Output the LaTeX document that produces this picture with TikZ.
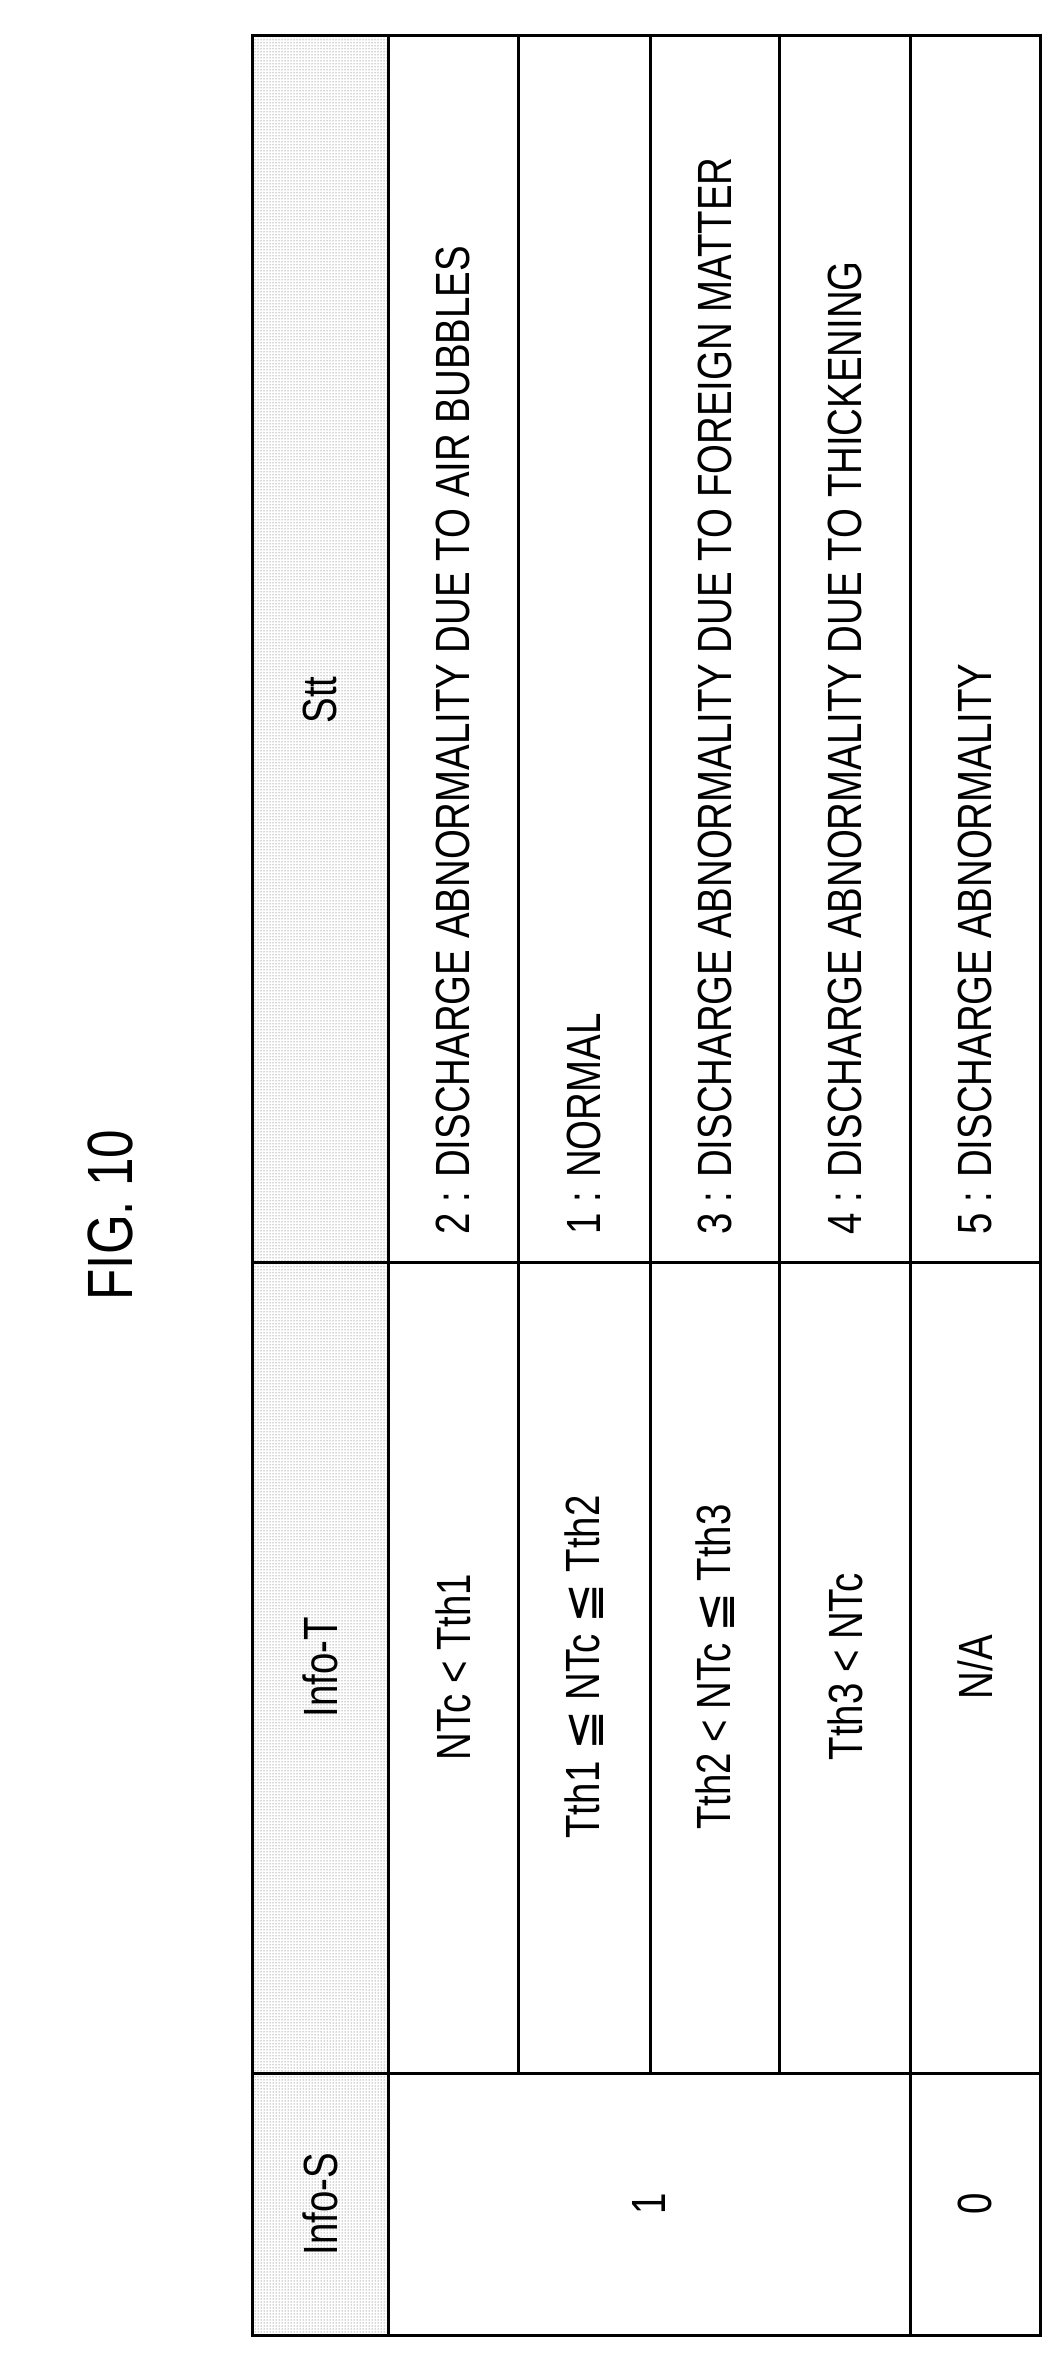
\documentclass[tikz,border=0pt]{standalone}
\usepackage{fontspec}
\setmainfont{Liberation Sans}[FakeStretch=0.8]
\newfontfamily\symfont{DejaVu Sans}
\newcommand{\myleq}{{\symfont ≦}}
\usetikzlibrary{patterns}
\tikzset{
  grid/.style={line width=3pt},
  hdr/.style={pattern=dots, pattern color=black!70},
  txt/.style={rotate=90, font=\fontsize{48}{50}\selectfont, inner sep=0pt},
  lbl/.style={txt, anchor=west},
}
\begin{document}
\begin{tikzpicture}[x=1pt,y=-1pt]
\useasboundingbox (0,0) rectangle (1061,2353);
% header shading
\fill[hdr] (252,35) rectangle (388,2335);
% grid
\draw[grid] (252,35) rectangle (1040,2335);
\draw[grid] (388,35) -- (388,2335);
\draw[grid] (910,35) -- (910,2335);
\foreach \x in {518,650,779} \draw[grid] (\x,35) -- (\x,2073);
\draw[grid] (252,1262) -- (1040,1262);
\draw[grid] (252,2073) -- (1040,2073);
% title
\node[txt, font=\fontsize{64}{66}\selectfont] (fig) at (110,1215) {FIG. 10};
% headers
\node[txt] (hs) at (320,2204) {Info-S};
\node[txt] (ht) at (320,1667) {Info-T};
\node[txt] (hstt) at (320,700) {Stt};
% Info-S values
\node[txt] (s1) at (649,2204) {1};
\node[txt] (s0) at (975,2204) {0};
% Info-T
\node[txt] (t1) at (453,1667) {NTc < Tth1};
\node[txt] (t2) at (584,1667) {Tth1 \myleq{} NTc \myleq{} Tth2};
\node[txt] (t3) at (715,1667) {Tth2 < NTc \myleq{} Tth3};
\node[txt] (t4) at (845,1667) {Tth3 < NTc};
\node[txt] (t5) at (975,1667) {N/A};
% Stt
\node[lbl] (r1) at (453,1235) {2 : DISCHARGE ABNORMALITY DUE TO AIR BUBBLES};
\node[lbl] (r2) at (584,1235) {1 : NORMAL};
\node[lbl] (r3) at (715,1235) {3 : DISCHARGE ABNORMALITY DUE TO FOREIGN MATTER};
\node[lbl] (r4) at (845,1235) {4 : DISCHARGE ABNORMALITY DUE TO THICKENING};
\node[lbl] (r5) at (975,1235) {5 : DISCHARGE ABNORMALITY};
\end{tikzpicture}
\end{document}
